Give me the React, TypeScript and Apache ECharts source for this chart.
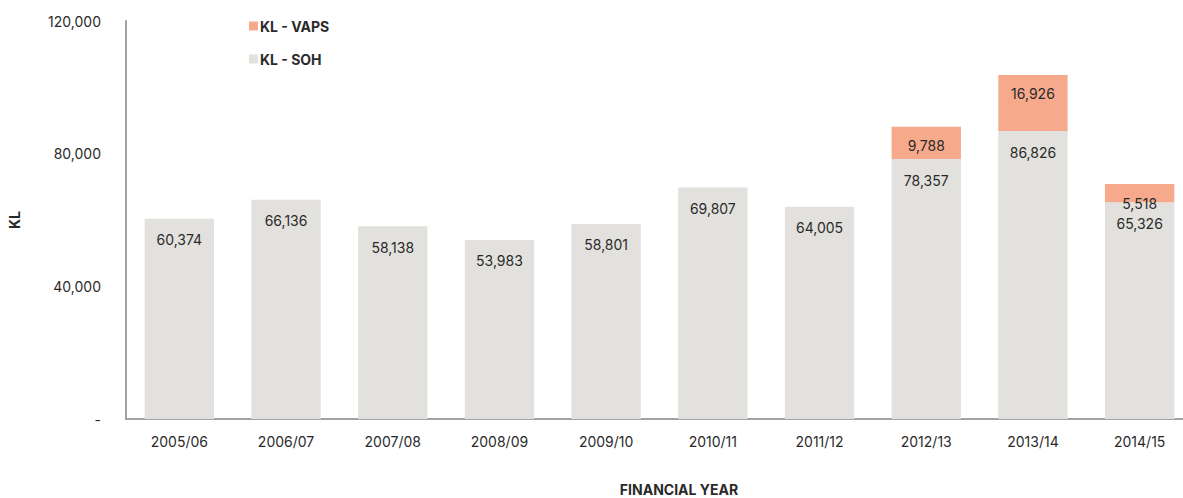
import React, { useEffect, useRef } from "react";
import * as echarts from "echarts";

const categories = ["2005/06", "2006/07", "2007/08", "2008/09", "2009/10", "2010/11", "2011/12", "2012/13", "2013/14", "2014/15"];
const sohValues = [60374, 66136, 58138, 53983, 58801, 69807, 64005, 78357, 86826, 65326];
const vapsValues: (number | null)[] = [null, null, null, null, null, null, null, 9788, 16926, 5518];
const yTicks = { min: 0, max: 120000, interval: 40000 };

const FONT = "Inter, 'Noto Sans', sans-serif";
const fmt = (v: number) => v.toLocaleString("en-US");

export default function App() {
  const ref = useRef<HTMLDivElement>(null);
  useEffect(() => {
    document.body.style.margin = "0";
    const chart = echarts.init(ref.current!, null, { renderer: "svg" });
    chart.setOption({
      animation: false,
      textStyle: { fontFamily: FONT },
      legend: {
        left: 244,
        top: 14,
        orient: "vertical",
        itemWidth: 9,
        itemHeight: 9,
        itemGap: 19,
        icon: "rect",
        data: ["KL - VAPS", "KL - SOH"],
        textStyle: { fontFamily: FONT, fontSize: 14, fontWeight: "bold", color: "#2a2a2a", padding: [0, 0, 0, -3] },
      },
      grid: { left: 126, top: 21, width: 1067, height: 398, containLabel: false, outerBoundsMode: "none" },
      xAxis: {
        type: "category",
        data: categories,
        name: "FINANCIAL YEAR",
        nameLocation: "middle",
        nameGap: 63,
        nameTextStyle: { fontFamily: FONT, fontSize: 14, fontWeight: "bold", color: "#2a2a2a", padding: [0, 0, 0, -2 * (1067 / 2 + 126 - 679)] },
        axisLine: { lineStyle: { color: "#a3a3a7", width: 2 } },
        axisTick: { show: false },
        axisLabel: { fontFamily: FONT, fontSize: 14, color: "#2a2a2a", margin: 15 },
      },
      yAxis: {
        type: "value",
        min: yTicks.min,
        max: yTicks.max,
        interval: yTicks.interval,
        name: "KL",
        nameLocation: "middle",
        nameGap: 105,
        nameRotate: 90,
        nameTextStyle: { fontFamily: FONT, fontSize: 14, fontWeight: "bold", color: "#2a2a2a" },
        axisLine: { show: true, lineStyle: { color: "#a3a3a7", width: 2 } },
        axisTick: { show: false },
        splitLine: { show: false },
        axisLabel: {
          fontFamily: FONT,
          fontSize: 14,
          color: "#2a2a2a",
          margin: 25,
          formatter: (v: number) => (v === 0 ? "-" : fmt(v)),
        },
      },
      series: [
        {
          name: "KL - SOH",
          type: "bar",
          stack: "total",
          barWidth: "65%",
          data: sohValues,
          itemStyle: { color: "#e2e1dd" },
          label: {
            show: true,
            position: "insideTop",
            distance: 14,
            fontFamily: FONT,
            fontSize: 14,
            color: "#2a2a2a",
            formatter: (p: any) => fmt(p.value),
          },
        },
        {
          name: "KL - VAPS",
          type: "bar",
          stack: "total",
          barWidth: "65%",
          data: vapsValues,
          itemStyle: { color: "#f7a98c" },
          label: {
            show: true,
            position: "insideTop",
            distance: 12,
            fontFamily: FONT,
            fontSize: 14,
            color: "#2a2a2a",
            formatter: (p: any) => (p.value ? fmt(p.value) : ""),
          },
        },
      ],
    });
    return () => chart.dispose();
  }, []);
  return <div ref={ref} style={{ width: 1183, height: 498 }} />;
}
